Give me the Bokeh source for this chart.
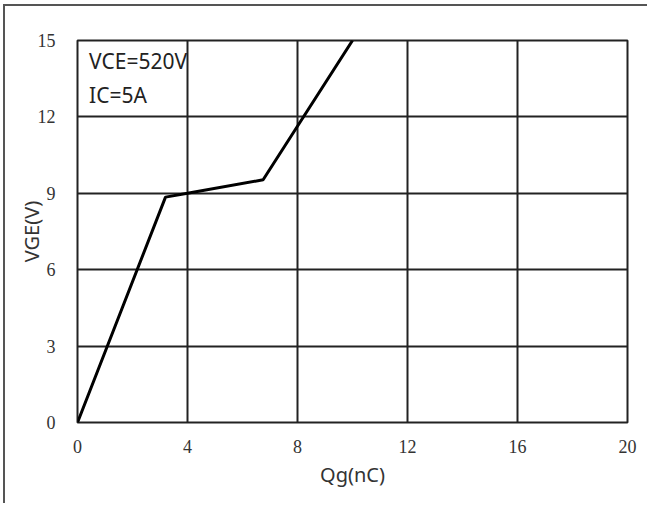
from bokeh.plotting import figure
from bokeh.models import Range1d, FixedTicker, Label
from bokeh.embed import file_html
from bokeh.resources import INLINE

# Gate charge characteristic: VGE versus Qg
qg_nc = [0.0, 3.2, 4.0, 6.75, 10.0]
vge_v = [0.0, 8.85, 9.0, 9.53, 15.0]

x_ticks = [0, 4, 8, 12, 16, 20]
y_ticks = [0, 3, 6, 9, 12, 15]
conditions = ["VCE=520V", "IC=5A"]

p = figure(
    width=644, height=499,
    output_backend="svg", toolbar_location=None,
    x_range=Range1d(0, 20), y_range=Range1d(0, 15),
    min_border_left=72, min_border_top=34,
    min_border_right=22, min_border_bottom=83,
)
p.styles = {
    "border-top": "2px solid #555",
    "border-left": "2px solid #555",
    "margin-top": "4px",
    "margin-left": "3px",
}

p.background_fill_color = "white"
p.border_fill_color = "white"
p.outline_line_color = "#222"
p.outline_line_width = 2

for ax in (p.xaxis[0], p.yaxis[0]):
    ax.axis_line_color = None
    ax.major_tick_line_color = None
    ax.minor_tick_line_color = None
    ax.major_label_text_font = "Liberation Serif"
    ax.major_label_text_font_size = "18px"
    ax.major_label_text_color = "#333"
    ax.axis_label_text_font = "Noto Sans"
    ax.axis_label_text_font_size = "20px"
    ax.axis_label_text_font_style = "normal"
    ax.axis_label_text_color = "#333"

p.xaxis.ticker = FixedTicker(ticks=x_ticks)
p.yaxis.ticker = FixedTicker(ticks=y_ticks)
p.xaxis.axis_label = "Qg(nC)"
p.yaxis.axis_label = "VGE(V)"
p.xaxis.major_label_standoff = 11
p.yaxis.major_label_standoff = 16
p.xaxis.axis_label_standoff = 5
p.yaxis.axis_label_standoff = -10

p.xgrid.ticker = FixedTicker(ticks=x_ticks)
p.ygrid.ticker = FixedTicker(ticks=y_ticks)
for g in (p.xgrid[0], p.ygrid[0]):
    g.grid_line_color = "#222"
    g.grid_line_width = 2
    g.grid_line_alpha = 1.0

p.line(qg_nc, vge_v, line_color="black", line_width=3)

for i, txt in enumerate(conditions):
    p.add_layout(Label(
        x=0.42, y=14.75 - i * 1.35, text=txt,
        text_font="Noto Sans", text_font_size="21px",
        text_color="#222", text_baseline="top",
    ))

open("out.html", "w").write(file_html(p, INLINE))
